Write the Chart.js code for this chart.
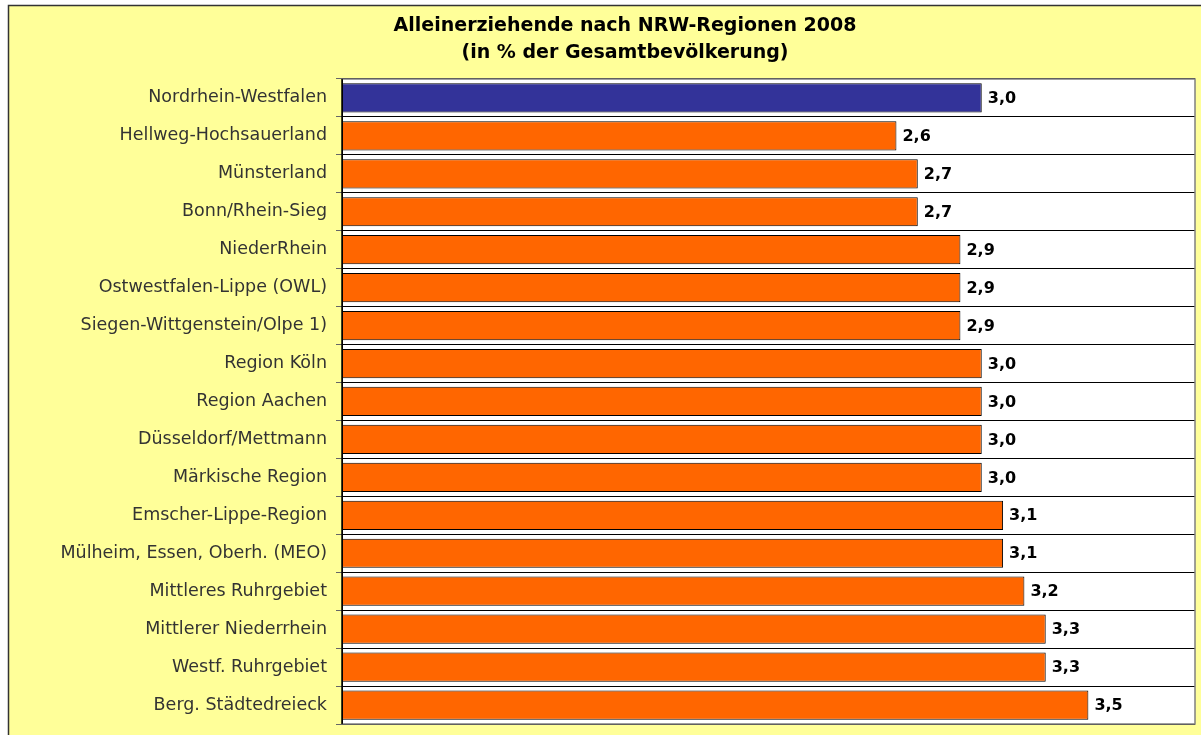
<!DOCTYPE html>
<html>
<head>
<meta charset="utf-8">
<script src="https://cdn.jsdelivr.net/npm/chart.js@4.4.0/dist/chart.umd.min.js"></script>
<style>
html,body{margin:0;padding:0;background:#fff;overflow:hidden;}
#wrap{width:1201px;height:735px;position:relative;}
</style>
</head>
<body>
<div id="wrap"><canvas id="c" width="1201" height="735"></canvas></div>
<script>
const titleLines = ["Alleinerziehende nach NRW-Regionen 2008", "(in % der Gesamtbevölkerung)"];
const regions = [
  "Nordrhein-Westfalen",
  "Hellweg-Hochsauerland",
  "Münsterland",
  "Bonn/Rhein-Sieg",
  "NiederRhein",
  "Ostwestfalen-Lippe (OWL)",
  "Siegen-Wittgenstein/Olpe 1)",
  "Region Köln",
  "Region Aachen",
  "Düsseldorf/Mettmann",
  "Märkische Region",
  "Emscher-Lippe-Region",
  "Mülheim, Essen, Oberh. (MEO)",
  "Mittleres Ruhrgebiet",
  "Mittlerer Niederrhein",
  "Westf. Ruhrgebiet",
  "Berg. Städtedreieck"
];
const shares = [3.0, 2.6, 2.7, 2.7, 2.9, 2.9, 2.9, 3.0, 3.0, 3.0, 3.0, 3.1, 3.1, 3.2, 3.3, 3.3, 3.5];
const xMin = 0, xMax = 4;

const frame = {
  id: 'frame',
  beforeDraw(chart) {
    const ctx = chart.ctx, ca = chart.chartArea;
    ctx.save();
    ctx.fillStyle = '#ffffff';
    ctx.fillRect(0, 0, chart.width, chart.height);
    ctx.fillStyle = '#FFFF99';
    ctx.fillRect(9, 6, chart.width - 9, chart.height - 6);
    ctx.strokeStyle = '#333333';
    ctx.lineWidth = 1.5;
    ctx.beginPath();
    ctx.moveTo(8.5, chart.height);
    ctx.lineTo(8.5, 5.5);
    ctx.lineTo(chart.width, 5.5);
    ctx.stroke();
    ctx.fillStyle = '#ffffff';
    ctx.fillRect(ca.left, ca.top, ca.right - ca.left, ca.bottom - ca.top);
    ctx.restore();
  },
  afterDraw(chart) {
    const ctx = chart.ctx, ca = chart.chartArea;
    ctx.save();
    ctx.strokeStyle = '#808080';
    ctx.lineWidth = 1.5;
    ctx.beginPath();
    ctx.moveTo(ca.left, ca.top);
    ctx.lineTo(ca.right, ca.top);
    ctx.lineTo(ca.right, ca.bottom);
    ctx.lineTo(ca.left, ca.bottom);
    ctx.stroke();
    ctx.strokeStyle = '#000000';
    ctx.lineWidth = 1.5;
    ctx.beginPath();
    ctx.moveTo(ca.left, ca.top);
    ctx.lineTo(ca.left, ca.bottom);
    ctx.stroke();
    ctx.restore();
  }
};

const valueLabels = {
  id: 'valueLabels',
  afterDatasetsDraw(chart) {
    const ctx = chart.ctx;
    const meta = chart.getDatasetMeta(0);
    ctx.save();
    ctx.fillStyle = '#000000';
    ctx.font = 'bold 16px "DejaVu Sans"';
    ctx.textAlign = 'left';
    ctx.textBaseline = 'middle';
    meta.data.forEach((bar, i) => {
      const txt = shares[i].toFixed(1).replace('.', ',');
      ctx.fillText(txt, bar.x + 6, bar.y + 1);
    });
    ctx.restore();
  }
};

new Chart(document.getElementById('c'), {
  type: 'bar',
  data: {
    labels: regions,
    datasets: [{
      data: shares,
      backgroundColor: shares.map((v, i) => i === 0 ? '#333399' : '#FF6600'),
      borderColor: '#000000',
      borderWidth: 1,
      borderSkipped: false,
      barPercentage: 0.77,
      categoryPercentage: 1.0
    }]
  },
  options: {
    indexAxis: 'y',
    responsive: false,
    animation: false,
    devicePixelRatio: 1,
    layout: { padding: { left: 55, right: 6, top: 0, bottom: 11 } },
    plugins: {
      legend: { display: false },
      tooltip: { enabled: false },
      title: {
        display: true,
        text: titleLines,
        color: '#000000',
        font: { family: '"DejaVu Sans"', size: 19, weight: 'bold', lineHeight: 1.42 },
        padding: { top: 13, bottom: 12 }
      }
    },
    scales: {
      x: {
        display: false,
        min: xMin,
        max: xMax
      },
      y: {
        afterFit(scale) { scale.width = 287; scale.paddingTop = 0; scale.paddingBottom = 0; },
        border: { display: true, color: '#000000', width: 1 },
        grid: {
          display: true,
          offset: true,
          color: '#000000',
          lineWidth: 1,
          tickLength: 6,
          tickColor: '#666666',
          drawOnChartArea: true
        },
        ticks: {
          color: '#333333',
          font: { family: '"DejaVu Sans"', size: 17.5 },
          padding: 9,
          autoSkip: false
        }
      }
    }
  },
  plugins: [frame, valueLabels]
});
</script>
</body>
</html>
